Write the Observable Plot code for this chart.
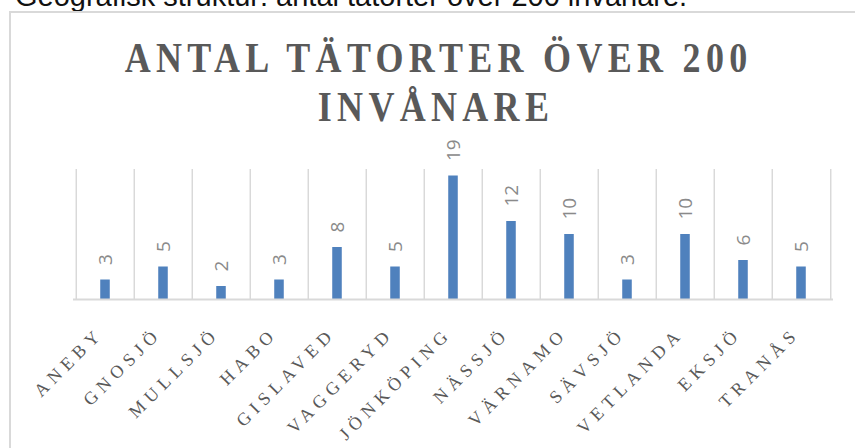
<!DOCTYPE html>
<html><head><meta charset="utf-8">
<script src="https://cdn.jsdelivr.net/npm/d3@7"></script>
<script src="https://cdn.jsdelivr.net/npm/@observablehq/plot@0.6"></script>
<style>
body{margin:0;background:#fff;overflow:hidden}
#wrap{position:relative;width:855px;height:448px;overflow:hidden;background:#fff}
#head{position:absolute;left:15px;top:-20px;font-family:"Liberation Sans",Arial,sans-serif;font-size:29px;line-height:33px;color:#111;white-space:nowrap}
#box{position:absolute;left:9px;top:11px;width:900px;height:500px;border:2px solid #d9d9d9;box-sizing:border-box}
#title{position:absolute;left:0;top:34px;width:872px;text-align:center;font-family:"Liberation Serif","Times New Roman",serif;font-weight:bold;font-size:36px;line-height:43px;letter-spacing:5.3px;text-indent:5.3px;color:#595959;transform:scaleY(1.15);transform-origin:top center}
#chart{position:absolute;left:0;top:130px}
#chart svg{overflow:visible}
#chart g[aria-label="x-axis tick label"] text{letter-spacing:5.5px}
</style>
</head><body>
<div id="wrap">
  <div id="head">Geografisk struktur: antal tätorter över 200 invånare.</div>
  <div id="box"></div>
  <div id="title">ANTAL TÄTORTER ÖVER 200<br>INVÅNARE</div>
  <div id="chart"></div>
</div>
<script>
const towns = ["ANEBY","GNOSJÖ","MULLSJÖ","HABO","GISLAVED","VAGGERYD","JÖNKÖPING","NÄSSJÖ","VÄRNAMO","SÄVSJÖ","VETLANDA","EKSJÖ","TRANÅS"];
const counts = [3,5,2,3,8,5,19,12,10,3,10,6,5];
const yMax = 20;

const data = towns.map((t, i) => ({town: t, n: counts[i]}));

const W = 855, ML = 73, MR = 22;
const bw = (W - ML - MR) / towns.length;
const barW = 10;

const chart = Plot.plot({
  width: W,
  height: 318,
  marginTop: 39,
  marginBottom: 149,
  marginLeft: ML,
  marginRight: MR,
  style: {background: "transparent", overflow: "visible"},
  x: {domain: towns, padding: 0},
  y: {domain: [0, yMax], axis: null},
  marks: [
    Plot.ruleX(towns, {x: d => d, y1: 0, y2: yMax, dx: -bw / 2, stroke: "#d9d9d9", strokeWidth: 1.5}),
    Plot.ruleX([towns[towns.length - 1]], {x: d => d, y1: 0, y2: yMax, dx: bw / 2, stroke: "#d9d9d9", strokeWidth: 1.5}),
    Plot.barY(data, {x: "town", y: "n", fill: "#4f81bd", insetLeft: (bw - barW) / 2, insetRight: (bw - barW) / 2}),
    Plot.ruleY([0], {stroke: "#d9d9d9", strokeWidth: 2}),
    Plot.text(data, {x: "town", y: "n", text: d => String(d.n), rotate: -90, textAnchor: "start", dy: -15,
      fontSize: 19, fontWeight: 400, fill: "#8a8a8a", fontFamily: "'Open Sans', sans-serif"}),
    Plot.axisX({tickRotate: -45, tickSize: 0, tickPadding: 23, dy: 8, dx: -5, fontSize: 18, fill: "#595959",
      fontFamily: "'Liberation Serif', serif", label: null})
  ]
});
document.getElementById("chart").appendChild(chart);
</script>
</body></html>
